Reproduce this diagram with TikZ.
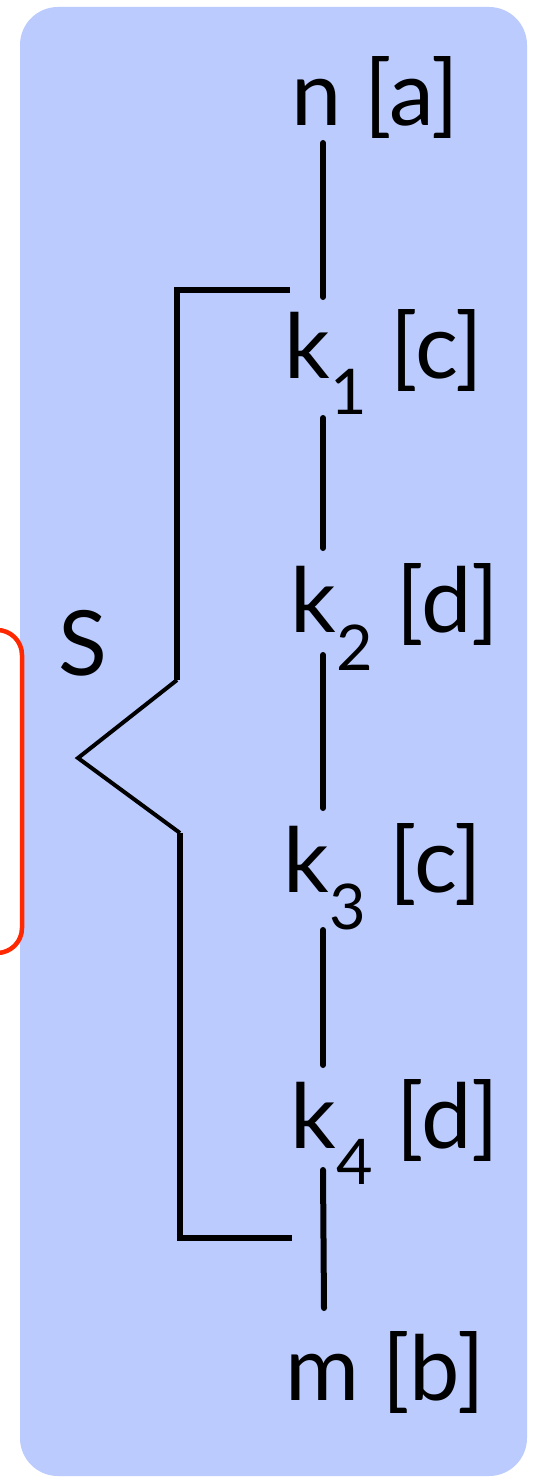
\documentclass[tikz,border=0pt]{standalone}
\usepackage{fontspec}
\setmainfont{Lato}
\definecolor{panelblue}{RGB}{187,203,253}
\definecolor{framered}{RGB}{255,40,0}
\begin{document}
\begin{tikzpicture}[x=1pt,y=-1pt,
  lbl/.style={inner sep=0pt,font=\fontsize{90}{96}\selectfont},
  link/.style={line width=6pt,line cap=round},
  brace/.style={line width=6.5pt},
  slant/.style={line width=4pt}]
\useasboundingbox (0,0) rectangle (534,1482);
\fill[panelblue,rounded corners=38pt] (20,7) rectangle (527,1476);
\draw[framered,line width=4.5pt,rounded corners=25pt] (-60,630) rectangle (22,953);
% labels
\node[lbl] (n)  at (375,98)   {n [a]};
\node[lbl] (k1) at (384,362)  {k\textsubscript{1} [c]};
\node[lbl] (k2) at (395,617)  {k\textsubscript{2} [d]};
\node[lbl] (k3) at (383,877)  {k\textsubscript{3} [c]};
\node[lbl] (k4) at (395,1132) {k\textsubscript{4} [d]};
\node[lbl] (m)  at (385,1372) {m [b]};
\node[lbl] (S)  at (83,643)   {S};
% connector end points
\coordinate (a1) at (323,143);  \coordinate (b1) at (323,297);
\coordinate (a2) at (323,418);  \coordinate (b2) at (323,548);
\coordinate (a3) at (323,655);  \coordinate (b3) at (323,808);
\coordinate (a4) at (323,930);  \coordinate (b4) at (323,1065);
\coordinate (a5) at (323,1170); \coordinate (b5) at (324,1308);
\draw[link] (a1) -- (b1);
\draw[link] (a2) -- (b2);
\draw[link] (a3) -- (b3);
\draw[link] (a4) -- (b4);
\draw[link] (a5) -- (b5);
% brace
\coordinate (t0) at (290,290);
\coordinate (t1) at (177,290);
\coordinate (t2) at (177,680);
\coordinate (tip) at (78,758);
\coordinate (u2) at (180,833);
\coordinate (u1) at (180,1238);
\coordinate (u0) at (292,1238);
\draw[brace] (t0) -- (t1) -- (t2);
\draw[slant,line join=miter] (t2) -- (tip) -- (u2);
\draw[brace] (u2) -- (u1) -- (u0);
\end{tikzpicture}
\end{document}
